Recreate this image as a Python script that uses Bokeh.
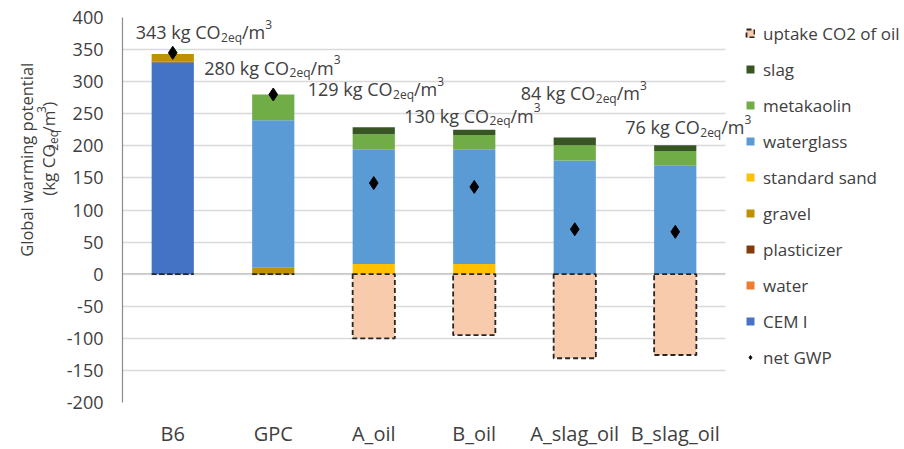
import math
from bokeh.plotting import figure
from bokeh.layouts import row
from bokeh.models import (Range1d, Label, Legend, LegendItem, BoxAnnotation,
                          FixedTicker, ColumnDataSource)
from bokeh.embed import file_html
from bokeh.resources import INLINE

# ---------------- data ----------------
categories = ["B6", "GPC", "A_oil", "B_oil", "A_slag_oil", "B_slag_oil"]
cem1        = [330, 0, 0, 0, 0, 0]
water       = [0, 0, 0, 0, 0, 0]
plasticizer = [1, 0, 0, 0, 0, 0]
gravel      = [12, 10, 0, 0, 0, 0]
sand        = [0, 0, 16, 16, 0, 0]
waterglass  = [0, 230, 178, 178, 177, 169]
metakaolin  = [0, 40, 24, 23, 24, 23]
slag        = [0, 0, 11, 8, 12, 9]
uptake      = [0, 0, -100, -95, -131, -126]
net_gwp     = [345, 280, 142, 136, 70, 66]
net_labels  = [343, 280, 129, 130, 84, 76]
y_ticks     = [-200, -150, -100, -50, 0, 50, 100, 150, 200, 250, 300, 350, 400]

# ---------------- layout / style ----------------
FONT = "Open Sans"
TXT = "#404040"
label_dx = [-37, -69, -66, -70, -54, -50]      # px from category centre (left edge of label)
label_y = [377, 322, 288, 247, 282, 229]       # baseline, data units

W = {'0': .572, '1': .572, '2': .572, '3': .572, '4': .572, '5': .572, '6': .572,
     '7': .572, '8': .572, '9': .572, ' ': .26, 'k': .535, 'g': .556, 'C': .633,
     'O': .78, 'e': .561, 'q': .613, '/': .372, 'm': .925, '(': .296, ')': .296}


def tw(s, size):
    return sum(W.get(c, .56) for c in s) * size


stack_names = ["CEM I", "water", "plasticizer", "gravel", "standard sand",
               "waterglass", "metakaolin", "slag"]
stack_cols = ["#4472C4", "#ED7D31", "#843C0C", "#BF9000", "#FFC000",
              "#5B9BD5", "#70AD47", "#375623"]
stack_keys = ["cem1", "water", "plasticizer", "gravel", "sand", "waterglass", "metakaolin", "slag"]

ncat = len(categories)
xpos = [i + 0.5 for i in range(ncat)]
src = ColumnDataSource(dict(x=xpos, cat=categories, cem1=cem1, water=water,
                            plasticizer=plasticizer, gravel=gravel, sand=sand,
                            waterglass=waterglass, metakaolin=metakaolin, slag=slag,
                            uptake=uptake, net=net_gwp))

H = 449
TITLE_W = 62
MAIN_W = 904 - TITLE_W
PLOT_PX = 603                    # pixel width of the category area
AREA_PX = MAIN_W - 60            # frame width (extends under the legend)
x_end = ncat * AREA_PX / PLOT_PX

p = figure(x_range=Range1d(0, x_end), y_range=Range1d(-200, 400),
           width=MAIN_W, height=H, output_backend="svg", toolbar_location=None,
           min_border_left=60, min_border_right=0, min_border_top=17, min_border_bottom=42)
p.outline_line_color = None
p.background_fill_color = "white"

p.xgrid.grid_line_color = None
p.ygrid.grid_line_color = "#d9d9d9"
p.ygrid.grid_line_width = 1.5
p.yaxis.ticker = FixedTicker(ticks=y_ticks)
p.yaxis.major_label_overrides = {t: str(t) for t in y_ticks}
p.yaxis.axis_line_color = "#8c8c8c"
p.yaxis.axis_line_width = 1.2
p.yaxis.major_tick_line_color = None
p.yaxis.minor_tick_line_color = None
p.yaxis.major_tick_out = 0
p.yaxis.major_label_standoff = 19
p.yaxis.major_label_text_font = FONT
p.yaxis.major_label_text_font_size = "18px"
p.yaxis.major_label_text_color = TXT

p.xaxis.ticker = FixedTicker(ticks=xpos)
p.xaxis.major_label_overrides = {x: c for x, c in zip(xpos, categories)}
p.xaxis.axis_line_color = None
p.xaxis.major_tick_line_color = None
p.xaxis.minor_tick_line_color = None
p.xaxis.major_tick_out = 0
p.xaxis.major_label_standoff = 17
p.xaxis.major_label_text_font = FONT
p.xaxis.major_label_text_font_size = "20px"
p.xaxis.major_label_text_color = TXT

# zero line (horizontal axis at 0)
p.segment(x0=[0], x1=[ncat], y0=[0], y1=[0], line_color="#7f7f7f", line_width=1.5,
          level="underlay")
# white cover so the grid stops at the end of the category area
p.add_layout(BoxAnnotation(left=ncat, fill_color="white", fill_alpha=1.0,
                           line_color=None, level="underlay"))

BW = 0.42
stack_r = p.vbar_stack(stack_keys, x="x", width=BW, source=src, color=stack_cols,
                       line_color=None)
up_r = p.vbar(x="x", top="uptake", bottom=0, width=BW, source=src,
              fill_color="#F8CBAD", line_color="#262626", line_width=1.8, line_dash="5 3")

net_r = p.scatter(x="x", y="net", source=src, marker="diamond", size=13, color="black")

# ---------------- annotation labels ----------------
MF, SF = 18, 12
for xc, n, dx, yb in zip(xpos, net_labels, label_dx, label_y):
    x0 = dx
    pieces = [(f"{n} kg CO", MF, 0), ("2eq", SF, -5), ("/m", MF, 0), ("3", SF, 8)]
    for t, fs, yo in pieces:
        p.add_layout(Label(x=xc, y=yb, x_offset=x0, y_offset=yo, text=t,
                           text_font=FONT, text_font_size=f"{fs}px", text_color=TXT,
                           text_align="left", text_baseline="alphabetic"))
        x0 += tw(t, fs)

# ---------------- legend ----------------
items = [LegendItem(label="uptake CO2 of oil", renderers=[up_r])]
for name, r in reversed(list(zip(stack_names, stack_r))):
    items.append(LegendItem(label=name, renderers=[r]))
items.append(LegendItem(label="net GWP", renderers=[net_r]))

legend = Legend(items=items, location=(623, 32), orientation="vertical",
                glyph_width=10, glyph_height=10, label_standoff=8,
                label_height=26, spacing=10, padding=0, margin=0,
                border_line_color=None, background_fill_alpha=0,
                label_text_font=FONT, label_text_font_size="17px",
                label_text_color=TXT)
p.add_layout(legend, "center")

# ---------------- y axis title (separate narrow panel) ----------------
t = figure(x_range=Range1d(0, TITLE_W), y_range=Range1d(0, H), width=TITLE_W, height=H,
           output_backend="svg", toolbar_location=None,
           x_axis_location=None, y_axis_location=None,
           min_border_left=0, min_border_right=0, min_border_top=0, min_border_bottom=0)
t.grid.visible = False
t.outline_line_color = None

TF, TS = 17, 12
t.add_layout(Label(x=26, y=H - 279, angle=math.pi / 2, text="Global warming potential",
                   text_font=FONT, text_font_size="16.5px", text_color=TXT,
                   text_align="left", text_baseline="middle"))
y0 = H - 208
for s, fs, xo in [("(kg CO", TF, 0), ("2eq", TS, 5), ("/m", TF, 0), ("3", TS, -7), (")", TF, 0)]:
    t.add_layout(Label(x=48 + xo, y=y0, angle=math.pi / 2, text=s,
                       text_font=FONT, text_font_size=f"{fs}px", text_color=TXT,
                       text_align="left", text_baseline="middle"))
    y0 += tw(s, fs) + 0.5

layout = row(t, p, spacing=0)
open("out.html", "w").write(file_html(layout, INLINE))
